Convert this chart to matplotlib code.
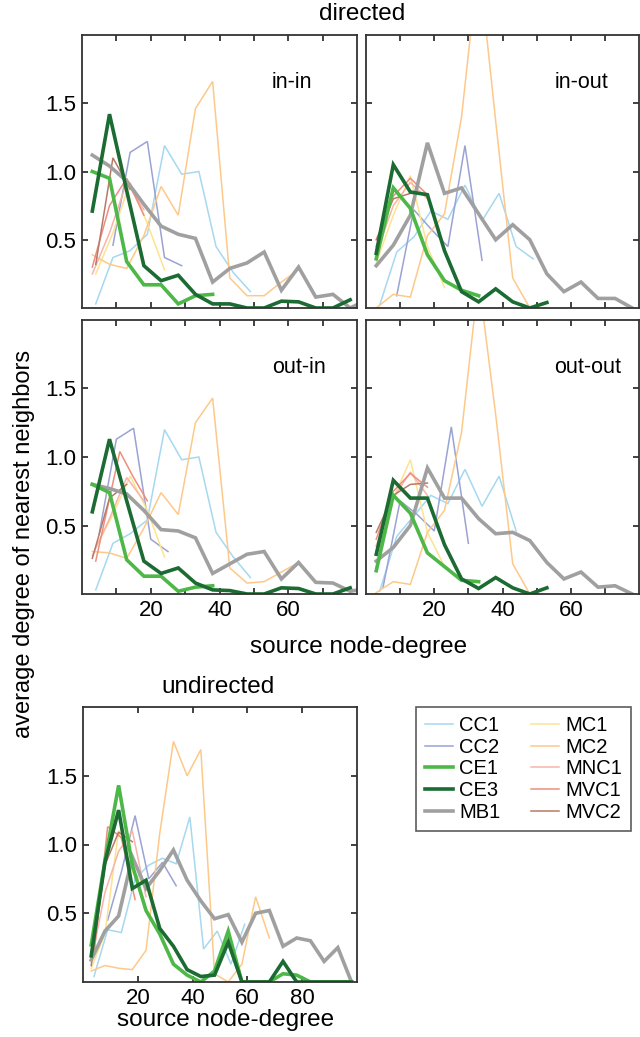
import matplotlib
matplotlib.use('Agg')
import matplotlib.pyplot as plt

plt.rcParams['font.family'] = ['Liberation Sans', 'DejaVu Sans']

# degree bins (three different bin offsets are used by the data sets)
deg3 = [3, 8, 13, 18, 23, 28, 33, 38, 43, 48, 53, 58, 63, 68, 73, 78, 83, 88, 93, 98]
deg4 = [4, 9, 14, 19, 24, 29, 34, 39, 44, 49, 54, 59, 64]
deg5 = [5, 10, 15, 20, 25, 30, 35]

names = ['CC1', 'CC2', 'CE1', 'CE3', 'MB1', 'MC1', 'MC2', 'MNC1', 'MVC1', 'MVC2']
colors = {'CC1': '#a6d8f0', 'CC2': '#9aa3d4', 'CE1': '#4db848', 'CE3': '#1b6b33',
          'MB1': '#a0a0a0', 'MC1': '#fde38f', 'MC2': '#fdc98a', 'MNC1': '#f8b4aa',
          'MVC1': '#ee8e7e', 'MVC2': '#b87a66'}
thick = ['MB1', 'CE1', 'CE3']

# (x, y) per data set, one dict per panel
in_in = {
    'CC1': (deg4, [0.03, 0.37, 0.42, 0.54, 1.19, 0.98, 1.00, 0.45, 0.26, 0.12]),
    'CC2': (deg4[1:], [0.46, 1.14, 1.22, 0.37, 0.31]),
    'MC1': (deg4, [0.25, 0.55, 0.92, 0.62, 0.28]),
    'MC2': (deg3, [0.39, 0.32, 0.29, 0.53, 0.89, 0.68, 1.46, 1.66, 0.22, 0.09, 0.09, 0.19, 0.28]),
    'MNC1': (deg3, [0.25, 0.55, 0.92, 0.72]),
    'MVC1': (deg3, [0.30, 0.75, 0.95, 0.68]),
    'MVC2': (deg4, [0.32, 1.10, 0.87]),
    'MB1': (deg3, [1.12, 1.04, 0.93, 0.76, 0.60, 0.54, 0.51, 0.19, 0.29, 0.33, 0.41, 0.13, 0.30, 0.08, 0.10, 0.00, 0.06]),
    'CE1': (deg3, [1.00, 0.95, 0.34, 0.17, 0.17, 0.03, 0.09, 0.10]),
    'CE3': (deg3, [0.71, 1.42, 0.86, 0.31, 0.20, 0.24, 0.10, 0.03, 0.03, 0.00, 0.00, 0.05, 0.045, 0.00, 0.00, 0.06]),
}
in_out = {
    'CC1': (deg4, [0.02, 0.41, 0.52, 0.71, 0.65, 0.90, 0.64, 0.84, 0.45, 0.36]),
    'CC2': (deg4[1:], [0.09, 0.72, 0.58, 0.45, 1.19, 0.35]),
    'MC1': (deg3, [0.33, 0.68, 0.97, 0.45, 0.15]),
    'MC2': (deg3, [0.00, 0.10, 0.08, 0.53, 0.69, 1.40, 2.55, 1.37, 0.22, 0.00]),
    'MNC1': (deg3, [0.40, 0.75, 0.92, 0.80]),
    'MVC1': (deg3, [0.45, 0.82, 0.95, 0.83]),
    'MVC2': (deg3, [0.50, 0.80, 0.84, 0.83]),
    'MB1': (deg3, [0.31, 0.46, 0.68, 1.21, 0.84, 0.88, 0.69, 0.50, 0.61, 0.50, 0.25, 0.12, 0.19, 0.07, 0.07, 0.00]),
    'CE1': (deg3, [0.36, 0.88, 0.73, 0.39, 0.20, 0.13, 0.09]),
    'CE3': (deg3, [0.40, 1.05, 0.85, 0.83, 0.42, 0.12, 0.045, 0.14, 0.045, 0.00, 0.04]),
}
out_in = {
    'CC1': (deg4, [0.03, 0.37, 0.44, 0.54, 1.20, 0.98, 1.00, 0.45, 0.27, 0.12]),
    'CC2': (deg5, [0.44, 1.13, 1.21, 0.40, 0.31]),
    'MC1': (deg4, [0.34, 0.58, 0.86, 0.61, 0.27]),
    'MC2': (deg3, [0.31, 0.30, 0.26, 0.48, 0.74, 0.58, 1.25, 1.43, 0.19, 0.08, 0.09, 0.16, 0.23]),
    'MNC1': (deg3, [0.28, 0.55, 0.85, 0.68]),
    'MVC1': ([4, 11, 15, 19], [0.24, 1.04, 0.85, 0.68]),
    'MVC2': (deg3, [0.26, 0.70, 0.80]),
    'MB1': (deg3, [0.80, 0.77, 0.73, 0.61, 0.47, 0.46, 0.41, 0.15, 0.22, 0.29, 0.31, 0.11, 0.23, 0.085, 0.08, 0.02, 0.04]),
    'CE1': (deg3, [0.80, 0.74, 0.25, 0.13, 0.13, 0.02, 0.05, 0.06]),
    'CE3': (deg3, [0.60, 1.13, 0.68, 0.24, 0.15, 0.19, 0.08, 0.03, 0.025, 0.00, 0.00, 0.045, 0.04, 0.00, 0.00, 0.045]),
}
out_out = {
    'CC1': (deg4, [0.02, 0.42, 0.57, 0.72, 0.66, 0.91, 0.64, 0.86, 0.46]),
    'CC2': (deg5, [0.05, 0.68, 0.58, 0.46, 1.22, 0.37]),
    'MC1': (deg3, [0.35, 0.70, 0.98, 0.45, 0.20]),
    'MC2': (deg3, [0.01, 0.09, 0.07, 0.45, 0.61, 1.18, 2.30, 1.31, 0.22, 0.00]),
    'MNC1': (deg3, [0.35, 0.70, 0.89, 0.72]),
    'MVC1': (deg3, [0.40, 0.75, 0.88, 0.78]),
    'MVC2': (deg3, [0.45, 0.72, 0.80, 0.81]),
    'MB1': (deg3, [0.24, 0.34, 0.50, 0.92, 0.70, 0.70, 0.55, 0.44, 0.45, 0.39, 0.23, 0.11, 0.16, 0.05, 0.06, 0.00]),
    'CE1': (deg3, [0.17, 0.72, 0.59, 0.30, 0.20, 0.10, 0.09]),
    'CE3': (deg3, [0.29, 0.83, 0.70, 0.70, 0.36, 0.11, 0.04, 0.12, 0.045, 0.00, 0.045]),
}
undirected = {
    'CC1': (deg4, [0.04, 0.38, 0.36, 0.75, 0.85, 0.90, 0.86, 1.20, 0.24, 0.37, 0.13, 0.42]),
    'CC2': (deg4[1:], [0.45, 0.80, 1.21, 0.75, 0.87, 0.70]),
    'MC1': (deg3, [0.10, 0.35, 1.10, 0.80, 0.70]),
    'MC2': (deg3, [0.08, 0.12, 0.10, 0.09, 0.23, 1.08, 1.75, 1.50, 1.69, 0.06, 0.00, 0.13, 0.62, 0.32]),
    'MNC1': (deg3, [0.15, 0.65, 0.95, 1.10, 0.62]),
    'MVC1': (deg4, [0.20, 1.13, 1.05, 0.60]),
    'MVC2': (deg3, [0.12, 0.85, 1.09, 1.02]),
    'MB1': (deg3, [0.16, 0.37, 0.48, 0.91, 0.68, 0.81, 0.96, 0.74, 0.59, 0.46, 0.49, 0.29, 0.50, 0.52, 0.26, 0.32, 0.30, 0.15, 0.25, 0.00]),
    'CE1': (deg3, [0.27, 0.88, 1.43, 0.85, 0.52, 0.35, 0.13, 0.05, 0.00, 0.08, 0.37, 0, 0, 0, 0.06, 0.05, 0, 0, 0, 0]),
    'CE3': (deg3, [0.19, 0.87, 1.25, 0.68, 0.74, 0.39, 0.26, 0.09, 0.04, 0.05, 0.29, 0, 0, 0, 0.15, 0, 0, 0, 0, 0]),
}

W, H = 640, 1037
fig = plt.figure(figsize=(W / 100, H / 100), dpi=100)

def px_axes(left, top, right, bottom):
    return fig.add_axes([left / W, 1 - bottom / H, (right - left) / W, (bottom - top) / H])

def draw(ax, data, xmax, xticks, xlabels, ylab, xlab):
    order = ['CC1', 'CC2', 'MC1', 'MC2', 'MNC1', 'MVC1', 'MVC2', 'MB1', 'CE1', 'CE3']
    for n in order:
        x, y = data[n]
        ax.plot(x[:len(y)], y, color=colors[n], lw=2.6 if n in thick else 1.1,
                solid_joinstyle='miter')
    ax.set_xlim(0, xmax)
    ax.set_ylim(0, 2)
    ax.set_yticks([0.5, 1.0, 1.5])
    ax.set_yticklabels(['0.5', '1.0', '1.5'] if ylab else [])
    ax.set_xticks(xticks)
    ax.set_xticklabels(xlabels if xlab else [])
    ax.tick_params(direction='in', top=True, right=True, length=4.5, width=1.2,
                   labelsize=16, pad=4, color='#222222')
    for s in ax.spines.values():
        s.set_linewidth(1.3)
        s.set_color('#333333')

ticks10 = [10, 20, 30, 40, 50, 60, 70]
lab10 = ['', '20', '', '40', '', '60', '']

ax1 = px_axes(82, 35, 357, 308)
draw(ax1, in_in, 80, ticks10, lab10, True, False)
ax2 = px_axes(366, 35, 639, 308)
draw(ax2, in_out, 80, ticks10, lab10, False, False)
ax3 = px_axes(82, 320, 357, 594)
draw(ax3, out_in, 80, ticks10, lab10, True, True)
ax4 = px_axes(366, 320, 639, 594)
draw(ax4, out_out, 80, ticks10, lab10, False, True)
ax5 = px_axes(83, 707, 357, 982)
draw(ax5, undirected, 100, [20, 40, 60, 80], ['20', '40', '60', '80'], True, True)

for ax, t in [(ax1, 'in-in'), (ax2, 'in-out'), (ax3, 'out-in'), (ax4, 'out-out')]:
    ax.text(0.69, 0.825, t, transform=ax.transAxes, fontsize=15.5, va='center', ha='left')

fs = 17.5
fig.text(362 / W, 1 - 14 / H, 'directed', fontsize=fs, ha='center', va='center')
fig.text(218 / W, 1 - 687 / H, 'undirected', fontsize=fs, ha='center', va='center')
fig.text(359 / W, 1 - 647 / H, 'source node-degree', fontsize=fs, ha='center', va='center')
fig.text(226 / W, 1 - 1020 / H, 'source node-degree', fontsize=fs, ha='center', va='center')
fig.text(24 / W, 1 - 544 / H, 'average degree of nearest neighbors', fontsize=17,
         ha='center', va='center', rotation=90)

handles = [plt.Line2D([], [], color=colors[n], lw=2.6 if n in thick else 1.1) for n in names]
leg = fig.legend(handles, names, loc='upper left', bbox_to_anchor=(416 / W, 1 - 707 / H),
                 ncol=2, fontsize=14.5, frameon=True, fancybox=False, handlelength=1.4,
                 handletextpad=0.3, columnspacing=1.5, labelspacing=0.135,
                 borderpad=0.45, borderaxespad=0)
leg.get_frame().set_edgecolor('#333333')
leg.get_frame().set_linewidth(1.2)

fig.savefig('out.png', dpi=100)
